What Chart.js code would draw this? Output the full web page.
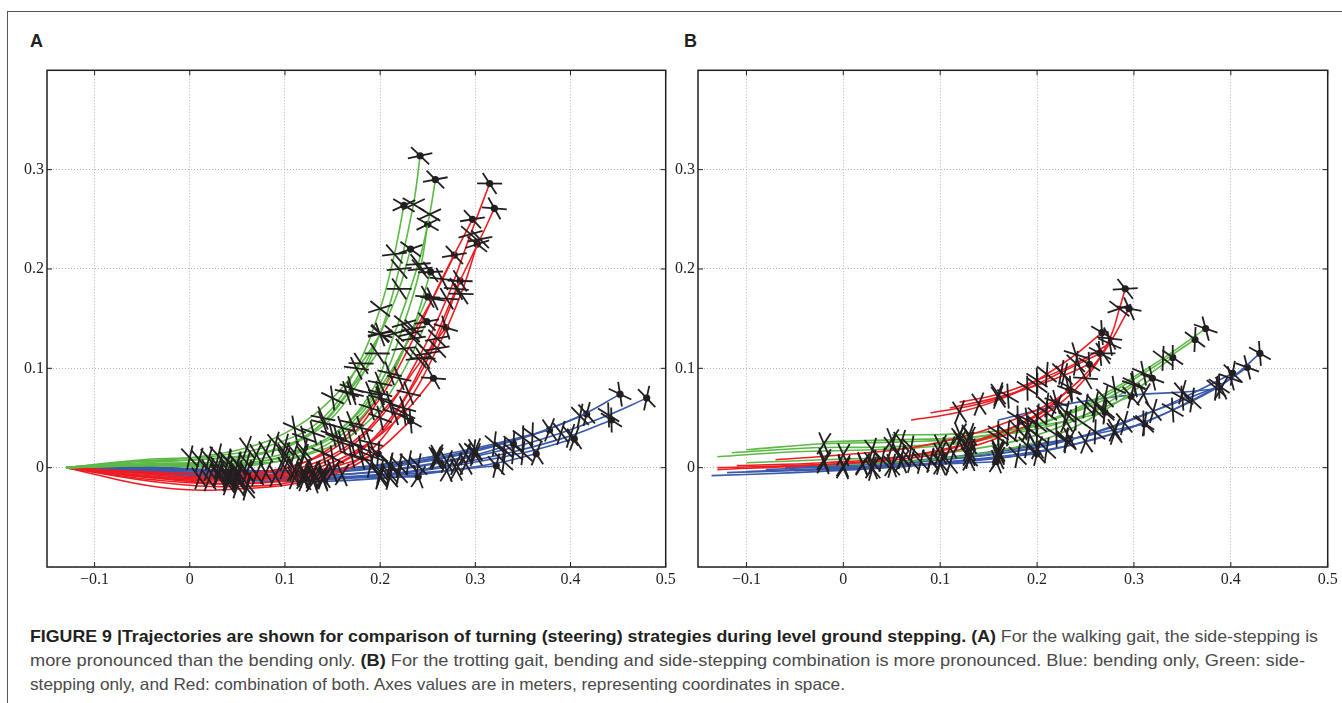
<!DOCTYPE html>
<html><head><meta charset="utf-8">
<script src="https://cdn.jsdelivr.net/npm/chart.js@4.4.0/dist/chart.umd.min.js"></script>
<style>
html,body{margin:0;padding:0;background:#fff;}
body{width:1342px;height:703px;position:relative;overflow:hidden;}
#frameTop{position:absolute;left:7px;top:11px;width:1335px;height:0;border-top:1px solid #555;}
#frameLeft{position:absolute;left:7px;top:11px;width:0;height:692px;border-left:1px solid #555;}
.plabel{position:absolute;font-family:'Liberation Sans',Arial,sans-serif;font-weight:bold;font-size:18px;line-height:18px;color:#231f20;}
canvas{position:absolute;}
#cA{left:0px;top:56px;}
#cB{left:640px;top:56px;}
.cap{position:absolute;left:30px;white-space:nowrap;font-family:'Liberation Sans Narrow','Liberation Sans',sans-serif;font-size:16.5px;line-height:18px;color:#4a4a4a;transform-origin:0 0;}
.cap b{color:#231f20;}
</style></head>
<body>
<div id="frameTop"></div><div id="frameLeft"></div>
<div class="plabel" style="left:30px;top:32px;">A</div>
<div class="plabel" style="left:684px;top:32px;">B</div>
<canvas id="cA" width="680" height="564"></canvas>
<canvas id="cB" width="702" height="564"></canvas>
<div class="cap" id="cap1" style="top:627px;"><b>FIGURE 9 |Trajectories are shown for comparison of turning (steering) strategies during level ground stepping. (A)</b> For the walking gait, the side-stepping is</div>
<div class="cap" id="cap2" style="top:651px;">more pronounced than the bending only. <b>(B)</b> For the trotting gait, bending and side-stepping combination is more pronounced. Blue: bending only, Green: side-</div>
<div class="cap" id="cap3" style="top:675px;">stepping only, and Red: combination of both. Axes values are in meters, representing coordinates in space.</div>
<script>
// ---------------- DATA (meters) ----------------
const xTicks = [-0.1, 0, 0.1, 0.2, 0.3, 0.4, 0.5];
const yTicks = [0, 0.1, 0.2, 0.3];

// Panel A (walking gait)
const A_blue = [
 [[-0.13,0],[-0.06,-0.002],[0.03,-0.006],[0.12,-0.008],[0.2,-0.004],[0.27,0.006],[0.33,0.018],[0.39,0.035],[0.44,0.053],[0.48,0.07]],
 [[-0.13,0],[-0.04,0.0],[0.05,-0.004],[0.14,-0.005],[0.22,0.002],[0.29,0.014],[0.35,0.03],[0.41,0.052],[0.452,0.074]],
 [[-0.13,0],[-0.05,-0.004],[0.04,-0.008],[0.13,-0.01],[0.21,-0.006],[0.28,0.004],[0.34,0.016],[0.4,0.032],[0.443,0.048]],
 [[-0.13,0],[-0.05,-0.001],[0.06,-0.004],[0.15,-0.004],[0.23,0.005],[0.3,0.018],[0.36,0.033],[0.417,0.054]],
 [[-0.13,0],[-0.04,-0.005],[0.05,-0.01],[0.14,-0.012],[0.22,-0.006],[0.29,0.004],[0.35,0.015],[0.404,0.029]],
 [[-0.13,0],[-0.05,0.001],[0.02,-0.002],[0.11,-0.003],[0.19,0.002],[0.26,0.012],[0.32,0.024],[0.378,0.038]],
 [[-0.13,0],[-0.05,-0.006],[0.04,-0.012],[0.13,-0.014],[0.21,-0.01],[0.28,-0.002],[0.33,0.006],[0.364,0.014]],
 [[-0.13,0],[-0.04,-0.003],[0.07,-0.007],[0.16,-0.007],[0.24,0.002],[0.3,0.013],[0.34,0.024]],
 [[-0.13,0],[-0.05,-0.004],[0.03,-0.009],[0.12,-0.011],[0.2,-0.008],[0.27,-0.003],[0.322,0.002]],
 [[-0.13,0],[-0.05,0.0],[0.04,-0.003],[0.13,-0.003],[0.21,0.003],[0.26,0.009],[0.298,0.016]],
 [[-0.13,0],[-0.04,-0.002],[0.06,-0.005],[0.15,-0.004],[0.21,0.002],[0.258,0.01]],
 [[-0.13,0],[-0.05,-0.003],[0.05,-0.008],[0.14,-0.01],[0.2,-0.01],[0.24,-0.009]]
];
const A_red = [
 [[-0.13,0],[-0.06,-0.007],[0.02,-0.012],[0.09,-0.008],[0.15,0.01],[0.2,0.05],[0.24,0.11],[0.27,0.17],[0.295,0.235],[0.315,0.286]],
 [[-0.13,0],[-0.04,-0.01],[0.04,-0.016],[0.11,-0.01],[0.17,0.012],[0.215,0.055],[0.25,0.115],[0.28,0.18],[0.305,0.23],[0.32,0.261]],
 [[-0.13,0],[-0.05,-0.004],[0.03,-0.006],[0.1,0.0],[0.16,0.025],[0.2,0.07],[0.235,0.13],[0.265,0.19],[0.297,0.25]],
 [[-0.13,0],[-0.03,-0.015],[0.05,-0.019],[0.12,-0.012],[0.18,0.01],[0.225,0.06],[0.26,0.12],[0.285,0.175],[0.302,0.225]],
 [[-0.13,0],[-0.05,-0.006],[0.01,-0.01],[0.08,-0.005],[0.14,0.015],[0.19,0.06],[0.225,0.12],[0.255,0.17],[0.278,0.214]],
 [[-0.13,0],[-0.04,-0.012],[0.06,-0.016],[0.13,-0.006],[0.19,0.025],[0.23,0.075],[0.26,0.13],[0.284,0.188]],
 [[-0.13,0],[-0.05,-0.005],[0.04,-0.01],[0.11,-0.002],[0.17,0.025],[0.21,0.065],[0.245,0.11],[0.269,0.141]],
 [[-0.13,0],[-0.04,-0.01],[0.05,-0.013],[0.12,-0.004],[0.18,0.02],[0.225,0.055],[0.256,0.09]],
 [[-0.13,0],[-0.03,-0.02],[0.06,-0.021],[0.14,-0.01],[0.19,0.012],[0.232,0.047]],
 [[-0.13,0],[-0.05,-0.008],[0.04,-0.012],[0.12,-0.006],[0.198,0.014]]
];
const A_green = [
 [[-0.13,0],[-0.06,0.006],[0.02,0.009],[0.08,0.016],[0.13,0.035],[0.17,0.075],[0.2,0.135],[0.22,0.2],[0.235,0.265],[0.242,0.314]],
 [[-0.13,0],[-0.04,0.004],[0.04,0.006],[0.1,0.014],[0.15,0.033],[0.19,0.075],[0.215,0.135],[0.24,0.205],[0.252,0.255],[0.258,0.29]],
 [[-0.13,0],[-0.05,0.008],[0.03,0.012],[0.09,0.024],[0.14,0.05],[0.175,0.1],[0.2,0.16],[0.215,0.215],[0.225,0.264]],
 [[-0.13,0],[-0.03,0.003],[0.05,0.004],[0.11,0.015],[0.16,0.04],[0.2,0.085],[0.225,0.145],[0.242,0.2],[0.25,0.245]],
 [[-0.13,0],[-0.05,0.005],[0.01,0.008],[0.07,0.013],[0.12,0.03],[0.165,0.075],[0.2,0.135],[0.22,0.18],[0.232,0.22]],
 [[-0.13,0],[-0.04,0.002],[0.03,0.001],[0.1,0.008],[0.155,0.03],[0.2,0.075],[0.232,0.135],[0.253,0.197]],
 [[-0.13,0],[-0.05,0.003],[0.06,0.005],[0.12,0.017],[0.17,0.045],[0.21,0.095],[0.235,0.14],[0.25,0.172]],
 [[-0.13,0],[-0.06,0.006],[0.0,0.01],[0.06,0.02],[0.11,0.04],[0.15,0.07],[0.18,0.105],[0.2,0.134]],
 [[-0.13,0],[-0.04,0.004],[0.04,0.007],[0.1,0.022],[0.14,0.045],[0.17,0.08],[0.197,0.115]],
 [[-0.13,0],[-0.05,0.002],[0.05,0.003],[0.12,0.012],[0.18,0.04],[0.22,0.09],[0.249,0.147]]
];
const A_green_noDot = [7, 8];

// Panel B (trotting gait)
const B_blue = [
 [[-0.136,-0.008],[-0.05,-0.005],[0.03,-0.001],[0.1,0.004],[0.18,0.012],[0.25,0.026],[0.31,0.045],[0.36,0.068],[0.4,0.09],[0.43,0.115]],
 [[-0.12,-0.005],[-0.03,-0.002],[0.05,0.002],[0.13,0.008],[0.21,0.018],[0.28,0.035],[0.34,0.058],[0.385,0.08],[0.417,0.101]],
 [[-0.06,0.0],[0.02,0.003],[0.09,0.007],[0.16,0.014],[0.23,0.027],[0.29,0.045],[0.35,0.07],[0.402,0.095]],
 [[-0.02,0.002],[0.06,0.006],[0.13,0.011],[0.2,0.02],[0.26,0.036],[0.32,0.057],[0.388,0.082]],
 [[0.16,0.048],[0.22,0.062],[0.27,0.07],[0.31,0.074],[0.35,0.076],[0.39,0.08]],
 [[-0.1,-0.004],[0.0,0.0],[0.08,0.006],[0.16,0.016],[0.23,0.028],[0.28,0.038],[0.311,0.044]],
 [[-0.08,-0.002],[0.0,0.002],[0.07,0.007],[0.13,0.013],[0.19,0.022],[0.234,0.029]],
 [[-0.05,-0.003],[0.03,0.0],[0.1,0.005],[0.16,0.01],[0.2,0.014]],
 [[-0.02,0.0],[0.05,0.002],[0.11,0.004],[0.158,0.006]]
];
const B_blue_noDot = [4];
const B_red = [
 [[-0.13,0],[-0.05,0.002],[0.03,0.006],[0.1,0.014],[0.16,0.03],[0.21,0.055],[0.25,0.09],[0.275,0.13],[0.285,0.16],[0.291,0.18]],
 [[-0.11,0.002],[-0.02,0.005],[0.06,0.011],[0.13,0.024],[0.19,0.048],[0.235,0.08],[0.268,0.115],[0.295,0.16]],
 [[0.07,0.048],[0.12,0.056],[0.17,0.072],[0.21,0.094],[0.24,0.114],[0.267,0.136]],
 [[0.09,0.055],[0.14,0.064],[0.19,0.08],[0.225,0.096],[0.265,0.115]],
 [[0.11,0.06],[0.16,0.071],[0.2,0.083],[0.228,0.093],[0.254,0.104]],
 [[-0.07,0.008],[0.0,0.013],[0.07,0.02],[0.13,0.033],[0.18,0.05],[0.21,0.063],[0.233,0.078]],
 [[-0.13,-0.002],[-0.04,0.002],[0.04,0.008],[0.11,0.02],[0.16,0.035],[0.2,0.052],[0.22,0.066]],
 [[0.12,0.066],[0.16,0.074],[0.2,0.088],[0.24,0.105],[0.275,0.125]]
];
const B_red_noDot = [7];
const B_green = [
 [[-0.13,0.011],[-0.05,0.016],[0.03,0.018],[0.1,0.022],[0.17,0.034],[0.23,0.055],[0.28,0.08],[0.33,0.11],[0.374,0.14]],
 [[-0.115,0.015],[-0.03,0.02],[0.05,0.021],[0.12,0.026],[0.19,0.04],[0.25,0.062],[0.31,0.095],[0.363,0.129]],
 [[-0.1,0.005],[-0.02,0.008],[0.06,0.011],[0.13,0.018],[0.2,0.033],[0.26,0.058],[0.3,0.083],[0.34,0.111]],
 [[-0.06,0.002],[0.02,0.004],[0.09,0.008],[0.16,0.017],[0.22,0.033],[0.27,0.058],[0.319,0.09]],
 [[-0.02,0.026],[0.05,0.028],[0.12,0.03],[0.19,0.037],[0.24,0.05],[0.297,0.072]],
 [[0.05,0.033],[0.12,0.034],[0.18,0.039],[0.23,0.047],[0.27,0.056]],
 [[-0.1,0.018],[-0.02,0.024],[0.06,0.026],[0.13,0.03],[0.2,0.044],[0.26,0.064],[0.3,0.085]]
];
const B_green_noDot = [6];

// ---------------- STYLE ----------------
const BLUE = '#3a5aab', RED = '#ee1d23', GREEN = '#5cb946', INK = '#231f20';

function tangentDeg(ctx) {
  const ch = ctx.chart, xs = ch.scales.x, ys = ch.scales.y;
  const d = ctx.dataset.data, i = ctx.dataIndex;
  const a = d[Math.max(0, i - 1)], b = d[Math.min(d.length - 1, i + 1)];
  const dx = xs.getPixelForValue(b.x) - xs.getPixelForValue(a.x);
  const dy = ys.getPixelForValue(b.y) - ys.getPixelForValue(a.y);
  return Math.atan2(dy, dx) * 180 / Math.PI;
}

function makeDatasets(groups) {
  const ds = [];
  groups.forEach(g => {
    g.trajs.forEach((t, k) => {
      const pts = t.map(p => ({x: p[0], y: p[1]}));
      const n = pts.length;
      const dot = !(g.noDot || []).includes(k);
      ds.push({
        data: pts, showLine: true, borderColor: g.color, borderWidth: 1.6,
        tension: 0.4, fill: false, order: g.order,
        pointRadius: c => (c.dataIndex === n - 1 && dot) ? 3.6 : 0,
        pointBackgroundColor: INK, pointBorderWidth: 0, pointHoverRadius: 0
      });
      [62, 118].forEach(off => {
        ds.push({
          data: pts, showLine: false, order: 0,
          pointStyle: 'line',
          pointRadius: c => (c.dataIndex > 0 && pts[c.dataIndex].x >= -0.025) ? 12.5 : 0,
          pointBorderColor: INK, pointBorderWidth: 1.8, pointHoverRadius: 0,
          pointRotation: c => tangentDeg(c) + off + ((c.dataIndex % 2) ? 8 : -8)
        });
      });
    });
  });
  return ds;
}

function fmt(v) {
  const r = Math.round(v * 10) / 10;
  if (r === 0) return '0';
  return (r < 0 ? '\u2212' : '') + Math.abs(r).toFixed(1);
}

const boxPlugin = {
  id: 'box',
  afterDraw(chart) {
    const {ctx, chartArea: a, scales: {x, y}} = chart;
    ctx.save();
    ctx.strokeStyle = INK; ctx.lineWidth = 1.5;
    ctx.strokeRect(a.left, a.top, a.right - a.left, a.bottom - a.top);
    ctx.lineWidth = 1; ctx.beginPath();
    xTicks.forEach(v => { const p = x.getPixelForValue(v);
      ctx.moveTo(p, a.bottom); ctx.lineTo(p, a.bottom - 5);
      ctx.moveTo(p, a.top); ctx.lineTo(p, a.top + 5); });
    yTicks.forEach(v => { const p = y.getPixelForValue(v);
      ctx.moveTo(a.left, p); ctx.lineTo(a.left + 5, p);
      ctx.moveTo(a.right, p); ctx.lineTo(a.right - 5, p); });
    ctx.stroke(); ctx.restore();
  }
};

function build(id, groups, yW, padRight) {
  new Chart(document.getElementById(id), {
    type: 'scatter',
    data: {datasets: makeDatasets(groups)},
    plugins: [boxPlugin],
    options: {
      responsive: false, animation: false, devicePixelRatio: 1,
      layout: {padding: {top: 12, right: padRight, left: 0, bottom: 0}},
      plugins: {legend: {display: false}, tooltip: {enabled: false}},
      events: [],
      scales: {
        x: {
          type: 'linear', min: -0.15, max: 0.5,
          ticks: {stepSize: 0.1, includeBounds: false, autoSkip: false, maxRotation: 0,
            padding: 3, color: INK, font: {family: 'Liberation Serif', size: 16}, callback: v => fmt(v)},
          grid: {color: '#b3b3b3', drawTicks: false, lineWidth: 1},
          border: {display: false, dash: [1, 2]},
          afterFit: s => { s.height = 53; }
        },
        y: {
          type: 'linear', min: -0.1, max: 0.4,
          ticks: {stepSize: 0.1, autoSkip: false, padding: 3, color: INK,
            font: {family: 'Liberation Serif', size: 16},
            callback: v => { const r = Math.round(v * 10) / 10; return (r < -0.05 || r > 0.35) ? '' : fmt(r); }},
          grid: {color: '#b3b3b3', drawTicks: false, lineWidth: 1},
          border: {display: false, dash: [1, 2]},
          afterFit: s => { s.width = yW; }
        }
      }
    }
  });
}

build('cA', [
  {trajs: A_blue, color: BLUE, order: 3},
  {trajs: A_red, color: RED, order: 2},
  {trajs: A_green, color: GREEN, order: 1, noDot: A_green_noDot}
], 47, 14);
build('cB', [
  {trajs: B_blue, color: BLUE, order: 3, noDot: B_blue_noDot},
  {trajs: B_green, color: GREEN, order: 2, noDot: B_green_noDot},
  {trajs: B_red, color: RED, order: 1, noDot: B_red_noDot}
], 58, 13);

// caption fitting
[['cap1', 1288], ['cap2', 1275], ['cap3', 815]].forEach(([id, w]) => {
  const el = document.getElementById(id);
  const nat = el.getBoundingClientRect().width;
  el.style.transform = 'scaleX(' + (w / nat) + ')';
});
</script>
</body></html>
